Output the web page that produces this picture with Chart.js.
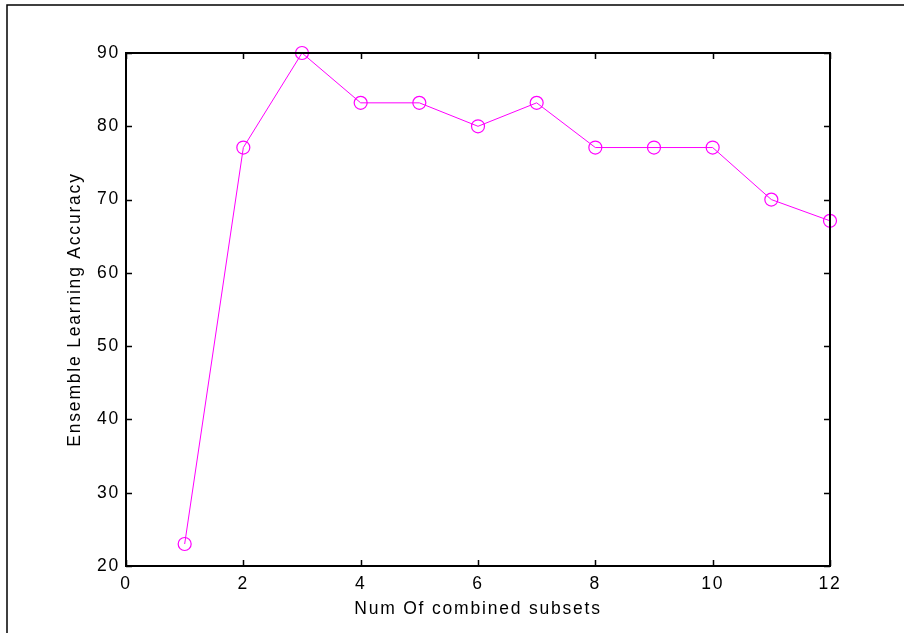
<!DOCTYPE html>
<html lang="en">
<head>
  <meta charset="UTF-8">
  <title>Ensemble Learning Accuracy</title>
  <script src="https://cdn.jsdelivr.net/npm/chart.js"></script>
  <style>
    body { margin: 0; padding: 0; background: #fff; }
    canvas { display: block; }
  </style>
</head>
<body>
  <canvas id="accCanvas" width="904" height="633"></canvas>
  <script>
    // values
    const subsets = [1, 2, 3, 4, 5, 6, 7, 8, 9, 10, 11, 12];
    const accuracy = [23, 77.1, 90, 83.2, 83.2, 80, 83.2, 77.1, 77.1, 77.1, 70, 67.1];
    const xTicks = [0, 2, 4, 6, 8, 10, 12];
    const yTicks = [20, 30, 40, 50, 60, 70, 80, 90];

    const FONT = "'Liberation Sans', Arial, sans-serif";

    // matlab style box: frame, inward ticks on all four sides
    const boxPlugin = {
      id: 'box',
      beforeDraw(chart) {
        const ctx = chart.ctx;
        ctx.save();
        ctx.fillStyle = '#fff';
        ctx.fillRect(0, 0, chart.width, chart.height);
        ctx.strokeStyle = '#000';
        ctx.lineWidth = 1.5;
        ctx.beginPath();
        ctx.moveTo(7, chart.height);
        ctx.lineTo(7, 5);
        ctx.lineTo(chart.width, 5);
        ctx.stroke();
        ctx.restore();
        // the figure text is spaced out a bit
        ctx.letterSpacing = '1.8px';
      },
      afterDatasetsDraw(chart) {
        const ctx = chart.ctx;
        const a = chart.chartArea;
        const xs = chart.scales.x, ys = chart.scales.y;
        ctx.save();
        ctx.strokeStyle = '#000';
        ctx.lineWidth = 2;
        ctx.strokeRect(a.left, a.top, a.right - a.left, a.bottom - a.top);
        ctx.lineWidth = 1.5;
        ctx.beginPath();
        xTicks.forEach(v => {
          const px = Math.round(xs.getPixelForValue(v)) + 0.5;
          ctx.moveTo(px, a.bottom); ctx.lineTo(px, a.bottom - 6);
          ctx.moveTo(px, a.top); ctx.lineTo(px, a.top + 6);
        });
        yTicks.forEach(v => {
          const py = Math.round(ys.getPixelForValue(v)) + 0.5;
          ctx.moveTo(a.left, py); ctx.lineTo(a.left + 6, py);
          ctx.moveTo(a.right, py); ctx.lineTo(a.right - 6, py);
        });
        ctx.stroke();
        ctx.restore();
      }
    };

    new Chart(document.getElementById('accCanvas'), {
      type: 'line',
      data: {
        datasets: [{
          data: subsets.map((s, i) => ({ x: s, y: accuracy[i] })),
          borderColor: '#ff00ff',
          borderWidth: 1,
          pointStyle: 'circle',
          pointRadius: 6.5,
          pointBorderWidth: 1.2,
          pointBorderColor: '#ff00ff',
          pointBackgroundColor: 'rgba(0,0,0,0)',
          tension: 0
        }]
      },
      options: {
        responsive: false,
        animation: false,
        clip: false,
        layout: { padding: { left: 0, top: 53, right: 74, bottom: 0 } },
        plugins: {
          legend: { display: false },
          tooltip: { enabled: false }
        },
        scales: {
          x: {
            type: 'linear',
            min: 0,
            max: 12,
            afterFit(scale) { scale.height = 67; },
            afterBuildTicks(scale) { scale.ticks = xTicks.map(v => ({ value: v })); },
            grid: { display: false, drawTicks: false },
            border: { display: false },
            ticks: { color: '#000', padding: 8, font: { family: FONT, size: 17.5 } },
            title: {
              display: true,
              text: 'Num Of combined subsets',
              color: '#000',
              padding: { top: 0, bottom: 13 },
              font: { family: FONT, size: 17.5 }
            }
          },
          y: {
            min: 20,
            max: 90,
            afterFit(scale) { scale.width = 126; },
            afterBuildTicks(scale) { scale.ticks = yTicks.map(v => ({ value: v })); },
            grid: { display: false, drawTicks: false },
            border: { display: false },
            ticks: { color: '#000', padding: 6, font: { family: FONT, size: 17.5 } },
            title: {
              display: true,
              text: 'Ensemble Learning Accuracy',
              color: '#000',
              padding: { top: 65, bottom: 0 },
              font: { family: FONT, size: 17.5 }
            }
          }
        }
      },
      plugins: [boxPlugin]
    });
  </script>
</body>
</html>
